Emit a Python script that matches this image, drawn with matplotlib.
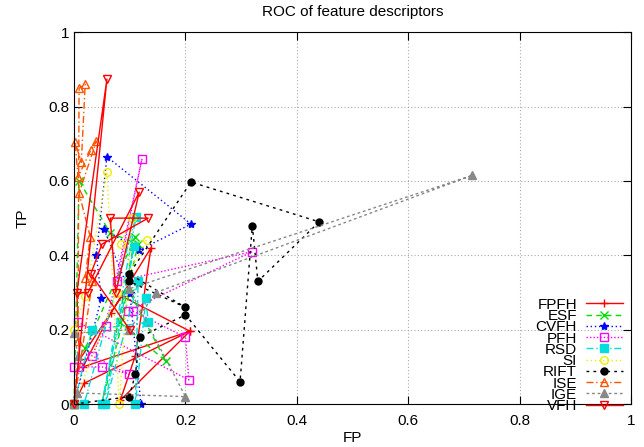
import matplotlib
matplotlib.use("Agg")
import matplotlib.pyplot as plt

plt.rcParams['font.family'] = ['Liberation Sans', 'DejaVu Sans']

# (FP, TP) pairs per descriptor, in plotting order
fpfh_x = [0.0, 0.018, 0.208, 0.016, 0.066, 0.138, 0.11, 0.083, 0.208, 0.086, 0.01, 0.005]
fpfh_y = [0.0, 0.056, 0.196, 0.10, 0.245, 0.42, 0.13, 0.01, 0.196, 0.29, 0.12, 0.30]

esf_x = [0.0, 0.009, 0.065, 0.115, 0.083, 0.165, 0.10, 0.05, 0.11, 0.02]
esf_y = [0.0, 0.60, 0.46, 0.43, 0.22, 0.115, 0.30, 0.0, 0.45, 0.15]

cvfh_x = [0.0, 0.049, 0.04, 0.059, 0.21, 0.117, 0.054, 0.10, 0.12]
cvfh_y = [0.0, 0.285, 0.40, 0.665, 0.484, 0.414, 0.47, 0.30, 0.0]

pfh_x = [0.0, 0.007, 0.05, 0.099, 0.032, 0.057, 0.122, 0.077, 0.32, 0.097, 0.106, 0.2, 0.206, 0.007]
pfh_y = [0.1, 0.1, 0.1, 0.08, 0.13, 0.21, 0.66, 0.33, 0.41, 0.25, 0.25, 0.18, 0.065, 0.22]

rsd_x = [0.0, 0.018, 0.111, 0.05, 0.108, 0.056, 0.115, 0.11, 0.129, 0.133, 0.032, 0.0]
rsd_y = [0.0, 0.0, 0.502, 0.0, 0.425, 0.0, 0.33, 0.0, 0.285, 0.22, 0.20, 0.0]

si_x = [0.0, 0.02, 0.059, 0.081, 0.104, 0.084, 0.131, 0.077, 0.0]
si_y = [0.2, 0.29, 0.624, 0.0, 0.50, 0.43, 0.44, 0.30, 0.0]

rift_x = [0.0, 0.099, 0.11, 0.118, 0.2, 0.298, 0.32, 0.33, 0.44, 0.21, 0.099, 0.2, 0.099]
rift_y = [0.0, 0.02, 0.08, 0.18, 0.24, 0.06, 0.48, 0.33, 0.49, 0.597, 0.35, 0.26, 0.33]

ise_x = [0.007, 0.009, 0.02, 0.013, 0.002, 0.007, 0.03, 0.04, 0.009, 0.029, 0.02, 0.033, 0.0]
ise_y = [0.17, 0.849, 0.86, 0.65, 0.704, 0.61, 0.683, 0.707, 0.567, 0.45, 0.34, 0.33, 0.0]

ige_x = [0.0, 0.007, 0.0, 0.099, 0.147, 0.715, 0.099, 0.2, 0.005]
ige_y = [0.0, 0.13, 0.19, 0.2, 0.30, 0.615, 0.31, 0.02, 0.03]

vfh_x = [0.0, 0.059, 0.005, 0.025, 0.117, 0.075, 0.065, 0.133, 0.05, 0.03, 0.1]
vfh_y = [0.0, 0.874, 0.30, 0.30, 0.57, 0.30, 0.50, 0.50, 0.43, 0.35, 0.2]

names = ['FPFH', 'ESF', 'CVFH', 'PFH', 'RSD', 'SI', 'RIFT', 'ISE', 'IGE', 'VFH']
xs = [fpfh_x, esf_x, cvfh_x, pfh_x, rsd_x, si_x, rift_x, ise_x, ige_x, vfh_x]
ys = [fpfh_y, esf_y, cvfh_y, pfh_y, rsd_y, si_y, rift_y, ise_y, ige_y, vfh_y]

colors = ['#ff0000', '#00dd00', '#0000ff', '#ff00ff', '#00dddd', '#eeee00',
          '#000000', '#ff5500', '#888888', '#ff0000']
styles = ['-', (0, (4, 3)), (0, (1, 2)), (0, (1, 1.5)), (0, (5, 2, 1, 2)),
          (0, (1, 2)), (0, (2, 3)), (0, (5, 2, 1, 2)), (0, (2, 2)), '-']
markers = ['+', 'x', '*', 's', 's', 'o', 'o', '^', '^', 'v']
msizes = [6, 6, 6, 5.5, 5.5, 5.5, 5, 6, 5.5, 6]
filled = [True, True, True, False, True, False, True, False, True, False]

fig = plt.figure(figsize=(6.44, 4.47), dpi=100)
ax = fig.add_axes([0.115, 0.096, 0.865, 0.832])

for x, y, n, c, ls, m, ms, f in zip(xs, ys, names, colors, styles, markers, msizes, filled):
    ax.plot(x, y, color=c, linestyle=ls, linewidth=1.0, marker=m, markersize=ms,
            markerfacecolor=c if f else 'none', markeredgecolor=c,
            markeredgewidth=1.0, label=n, clip_on=False)

ax.set_xlim(0, 1)
ax.set_ylim(0, 1)
ticks = [0, 0.2, 0.4, 0.6, 0.8, 1]
ax.set_xticks(ticks)
ax.set_yticks(ticks)
ax.set_xticklabels(['0', '0.2', '0.4', '0.6', '0.8', '1'])
ax.set_yticklabels(['0', '0.2', '0.4', '0.6', '0.8', '1'])
ax.tick_params(axis='x', pad=7)
ax.tick_params(direction='in', length=6, top=True, right=True, labelsize=11)
ax.grid(True, color='#aaaaaa', linestyle=(0, (1, 2)), linewidth=0.8)
ax.set_xlabel('FP', fontsize=11, labelpad=2)
ax.set_ylabel('TP', fontsize=11, labelpad=13)
ax.set_title('ROC of feature descriptors', fontsize=11, pad=12)

ax.legend(loc='lower right', bbox_to_anchor=(0.985, -0.024), markerfirst=False,
          frameon=False, fontsize=11, labelspacing=-0.18, handlelength=2.4,
          handletextpad=0.6, borderaxespad=0.0, borderpad=0.0)

fig.savefig('out.png', dpi=100)
